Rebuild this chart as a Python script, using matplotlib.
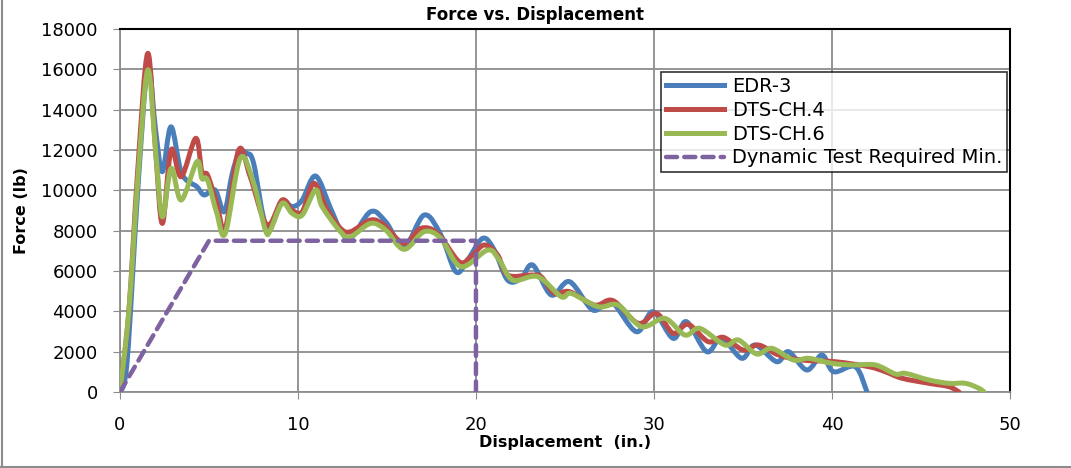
import matplotlib.pyplot as plt
from matplotlib.lines import Line2D
from matplotlib.path import Path
from matplotlib.patches import PathPatch

plt.rcParams['font.family'] = ['DejaVu Sans']

# EDR-3
edr_x = [0, 0.4, 1.0, 1.56, 2.0, 2.38, 2.87, 3.47, 4.32, 4.73, 5.35, 5.86, 6.3, 6.7, 7.14, 7.51,
         8.26, 9.11, 9.67, 10.24, 10.99, 11.83, 12.39, 12.96, 14.08, 14.93, 15.96, 17.09, 18.03,
         18.87, 19.53, 20.38, 21.03, 21.78, 22.54, 23.19, 24.23, 25.26, 26.57, 27.6, 29.01, 29.95,
         31.08, 31.83, 32.96, 33.8, 34.93, 35.68, 36.9, 37.56, 38.59, 39.44, 40.09, 41.31, 41.97]
edr_y = [0, 1500, 10000, 16100, 13000, 10925, 13150, 10840, 10180, 9770, 10015, 8940, 10800, 11850, 11830, 11340,
         8115, 9440, 9190, 9520, 10710, 9110, 8030, 7620, 8940, 8440, 7200, 8775, 7785,
         5965, 6545, 7620, 7040, 5550, 5635, 6295, 4810, 5470, 4065, 4475, 2990, 3980,
         2660, 3485, 2000, 2660, 1670, 2330, 1500, 2000, 1090, 1835, 1005, 1255, 0]

# DTS-CH.4
ch4_x = [0, 0.5, 1.0, 1.56, 2.0, 2.38, 2.87, 3.44, 4.26, 4.6, 4.92, 5.44, 5.92, 6.67, 7.32, 8.26,
         9.11, 9.67, 10.24, 10.89, 11.6, 12.39, 12.96, 14.08, 14.83, 15.96, 16.9, 17.84, 19.06,
         19.72, 20.47, 21.22, 21.78, 23.1, 23.66, 24.41, 25.26, 26.67, 27.7, 29.11, 30.14, 31.08,
         31.92, 33.05, 33.9, 35.02, 35.87, 37.0, 38.3, 40.19, 42.07, 43.0, 43.94, 45.45, 46.57, 47.14]
ch4_y = [0, 4000, 11000, 16790, 12000, 8360, 12000, 10675, 12580, 10925, 10760, 9355, 8115, 12000, 10675, 8280,
         9520, 9020, 8940, 10350, 9100, 8115, 7950, 8530, 8280, 7370, 8115, 7870, 6460,
         6710, 7290, 6790, 5800, 5800, 5720, 4890, 4975, 4310, 4530, 3405, 3900, 2910,
         3355, 2495, 2710, 2080, 2330, 1835, 1585, 1500, 1255, 1005, 680, 430, 265, 0]

# DTS-CH.6
ch6_x = [0, 0.5, 1.0, 1.56, 2.0, 2.38, 2.87, 3.44, 4.32, 4.6, 4.92, 5.44, 5.92, 6.76, 7.51, 8.17,
         8.45, 9.11, 9.67, 10.24, 10.99, 11.36, 12.39, 12.96, 14.08, 14.93, 15.96, 17.09, 18.03,
         19.15, 20.66, 21.31, 22.07, 23.47, 24.79, 25.35, 26.86, 27.98, 29.3, 30.61, 31.74, 32.58,
         33.99, 34.74, 35.77, 36.62, 37.84, 38.69, 40.0, 41.13, 42.44, 43.57, 44.13, 45.45, 46.57,
         47.5, 48.26, 48.55]
ch6_y = [0, 4000, 10500, 15964, 12000, 8690, 11090, 9520, 11420, 10590, 10510, 8870, 7870, 11590, 10350, 8030,
         8030, 9355, 8860, 8775, 10015, 9190, 7950, 7700, 8360, 8030, 7075, 7950, 7620,
         6215, 7040, 6545, 5550, 5720, 4725, 4890, 4230, 4310, 3240, 3650, 2825, 3155,
         2330, 2580, 1885, 2165, 1585, 1670, 1420, 1340, 1340, 890, 925, 595, 430,
         430, 180, 0]

# Dynamic Test Required Min.
req_x = [0, 5, 20, 20]
req_y = [0, 7500, 7500, 0]


def smooth_path(xs, ys):
    # Excel-style smoothed line: cubic Bezier segments through the points
    pts = list(zip(xs, ys))
    n = len(pts)
    verts = [pts[0]]
    codes = [Path.MOVETO]
    for i in range(n - 1):
        p0 = pts[i - 1] if i > 0 else pts[i]
        p1 = pts[i]
        p2 = pts[i + 1]
        p3 = pts[i + 2] if i + 2 < n else pts[i + 1]
        c1 = (p1[0] + (p2[0] - p0[0]) / 6, p1[1] + (p2[1] - p0[1]) / 6)
        c2 = (p2[0] - (p3[0] - p1[0]) / 6, p2[1] - (p3[1] - p1[1]) / 6)
        verts += [c1, c2, p2]
        codes += [Path.CURVE4] * 3
    return Path(verts, codes)


fig = plt.figure(figsize=(10.71, 4.68), dpi=100)
ax = fig.add_axes([0.112, 0.1624, 0.831, 0.7756])

lw = 3.6
series = [
    (edr_x, edr_y, '#4A7EBB', 'EDR-3', 3),
    (ch4_x, ch4_y, '#BE4B48', 'DTS-CH.4', 4),
    (ch6_x, ch6_y, '#98B954', 'DTS-CH.6', 5),
]
handles = []
for xs, ys, c, name, z in series:
    patch = PathPatch(smooth_path(xs, ys), fill=False, edgecolor=c, lw=lw,
                      joinstyle='round', capstyle='round', zorder=z)
    ax.add_patch(patch)
    handles.append(Line2D([], [], color=c, lw=lw, label=name))

req_line, = ax.plot(req_x, req_y, color='#7F63A1', lw=3.2, ls=(0, (2.5, 1.6)),
                    dash_capstyle='round', label='Dynamic Test Required Min.', zorder=6)
handles.append(req_line)

ax.set_xlim(0, 50)
ax.set_ylim(0, 18000)
ax.set_xticks(range(0, 51, 10))
ax.set_yticks(range(0, 18001, 2000))
ax.grid(True, color='#8C8C8C', lw=1.3)
ax.set_axisbelow(True)

ax.tick_params(direction='out', length=5, color='#8C8C8C', labelsize=13, pad=11)
ax.tick_params(axis='x', pad=12)
for s in ['left', 'bottom']:
    ax.spines[s].set_color('#8C8C8C')
    ax.spines[s].set_linewidth(1.3)
for s in ['top', 'right']:
    ax.spines[s].set_color('black')
    ax.spines[s].set_linewidth(1.5)

fig.text(0.5, 0.968, 'Force vs. Displacement', fontsize=12, fontweight='bold',
         ha='center', va='center')
ax.set_xlabel('Displacement  (in.)', fontsize=11.5, fontweight='bold', labelpad=1)
ax.set_ylabel('Force (lb)', fontsize=11.5, fontweight='bold', labelpad=9)

leg = ax.legend(handles=handles, loc='upper right', bbox_to_anchor=(0.997, 0.8815), fontsize=14,
                frameon=True, fancybox=False, edgecolor='black', handlelength=3.0,
                handletextpad=0.4, borderpad=0.25, labelspacing=0.25, borderaxespad=0)
leg.get_frame().set_linewidth(1.2)

fig.add_artist(Line2D([0.002, 0.002], [0, 1], color='#8C8C8C', lw=1.5))
fig.add_artist(Line2D([0, 1], [0.003, 0.003], color='#8C8C8C', lw=1.5))

fig.savefig('out.png', dpi=100)
